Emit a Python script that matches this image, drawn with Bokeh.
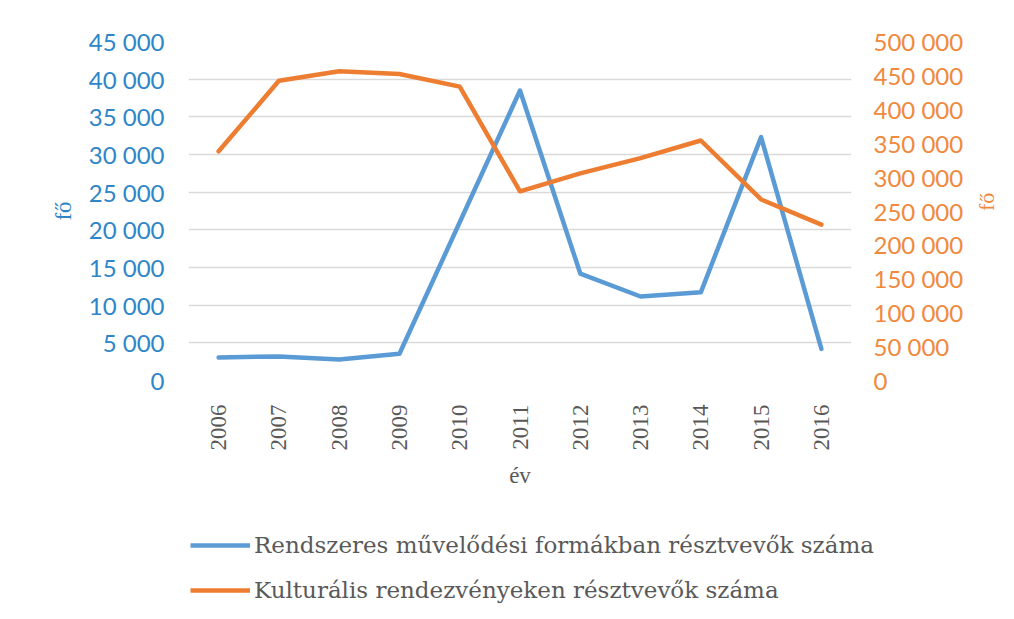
from bokeh.plotting import figure
from bokeh.layouts import column
from bokeh.models import (LinearAxis, Range1d, FixedTicker, Legend, LegendItem,
                          CustomJSTickFormatter)
from bokeh.embed import file_html
from bokeh.resources import INLINE

years = [2006, 2007, 2008, 2009, 2010, 2011, 2012, 2013, 2014, 2015, 2016]
regular = [3050, 3200, 2800, 3550, 21000, 38500, 14200, 11150, 11700, 32300, 4200]
events = [338000, 442000, 456000, 452000, 433500, 279000, 305500, 328000, 354000, 267000, 230000]
series_names = ["Rendszeres művelődési formákban résztvevők száma",
                "Kulturális rendezvényeken résztvevők száma"]

left_ticks = list(range(0, 45001, 5000))
right_ticks = list(range(0, 500001, 50000))

BLUE = "#5B9BD5"
ORANGE = "#ED7D31"
BLUE_TXT = "#2E86C9"
ORANGE_TXT = "#F0893E"
GRAY_TXT = "#595959"
SANS = "Lato"
SERIF = "Liberation Serif"

p = figure(width=1014, height=500, output_backend="svg", toolbar_location=None,
           x_range=Range1d(2005.5, 2016.5), y_range=Range1d(0, 45000),
           min_border_left=188, min_border_right=154, min_border_top=41,
           min_border_bottom=120)
p.outline_line_color = None
p.background_fill_color = "white"
p.border_fill_color = "white"
p.frame_align = False

p.extra_y_ranges = {"right": Range1d(0, 500000)}

fmt = CustomJSTickFormatter(code="""
    return tick.toFixed(0).replace(/\\B(?=(\\d{3})+(?!\\d))/g, ' ');
""")

# left axis
ly = p.yaxis[0]
ly.ticker = FixedTicker(ticks=left_ticks)
ly.formatter = fmt
ly.axis_label = "fő"
ly.axis_label_text_font = SERIF
ly.axis_label_text_font_style = "normal"
ly.axis_label_text_font_size = "23px"
ly.axis_label_text_color = BLUE_TXT
ly.axis_label_standoff = 10
ly.major_label_text_font = SANS
ly.major_label_text_font_size = "24px"
ly.major_label_text_color = BLUE_TXT
ly.major_label_standoff = 18
ly.axis_line_color = None
ly.major_tick_line_color = None
ly.minor_tick_line_color = None

# right axis
ry = LinearAxis(y_range_name="right")
ry.ticker = FixedTicker(ticks=right_ticks)
ry.formatter = fmt
ry.axis_label = "fő"
ry.axis_label_orientation = 1.5708
ry.axis_label_text_font = SERIF
ry.axis_label_text_font_style = "normal"
ry.axis_label_text_font_size = "22px"
ry.axis_label_text_color = ORANGE_TXT
ry.axis_label_standoff = 20
ry.major_label_text_font = SANS
ry.major_label_text_font_size = "24px"
ry.major_label_text_color = ORANGE_TXT
ry.major_label_standoff = 16
ry.axis_line_color = None
ry.major_tick_line_color = None
ry.minor_tick_line_color = None
p.add_layout(ry, "right")

# x axis
xa = p.xaxis[0]
xa.ticker = FixedTicker(ticks=years)
xa.major_label_orientation = 1.5708
xa.major_label_text_font = SERIF
xa.major_label_text_font_size = "23px"
xa.major_label_text_color = GRAY_TXT
xa.major_label_standoff = 18
xa.axis_label = "év"
xa.axis_label_text_font = SERIF
xa.axis_label_text_font_style = "normal"
xa.axis_label_text_font_size = "23px"
xa.axis_label_text_color = GRAY_TXT
xa.axis_label_standoff = 10
xa.axis_line_color = None
xa.major_tick_line_color = None
xa.minor_tick_line_color = None

p.xgrid.grid_line_color = None
p.ygrid.grid_line_color = "#D9D9D9"
p.ygrid.grid_line_width = 1.5

p.line(years, regular, line_color=BLUE, line_width=4.5, line_join="round", line_cap="round")
p.line(years, events, line_color=ORANGE, line_width=4.5, line_join="round", line_cap="round",
       y_range_name="right")

# legend strip below the chart
p2 = figure(width=1014, height=119, output_backend="svg", toolbar_location=None,
            min_border=0)
p2.frame_align = False
p2.axis.visible = False
p2.grid.visible = False
p2.outline_line_color = None
p2.background_fill_color = "white"
p2.border_fill_color = "white"
l1 = p2.line(years, regular, line_color=BLUE, line_width=4.5, visible=False)
l2 = p2.line(years, events, line_color=ORANGE, line_width=4.5, visible=False)

legend = Legend(items=[
    LegendItem(label=series_names[0], renderers=[l1]),
    LegendItem(label=series_names[1], renderers=[l2]),
], location=(190, 15))
legend.label_text_font = "DejaVu Serif"
legend.label_text_font_size = "23px"
legend.label_text_color = GRAY_TXT
legend.glyph_width = 60
legend.glyph_height = 28
legend.label_height = 28
legend.label_standoff = 4
legend.spacing = 17
legend.padding = 0
legend.margin = 0
legend.inactive_fill_alpha = 0
legend.background_fill_alpha = 0
legend.border_line_color = None
p2.add_layout(legend, "center")

layout = column(p, p2, spacing=0)
open("out.html", "w").write(file_html(layout, INLINE))
